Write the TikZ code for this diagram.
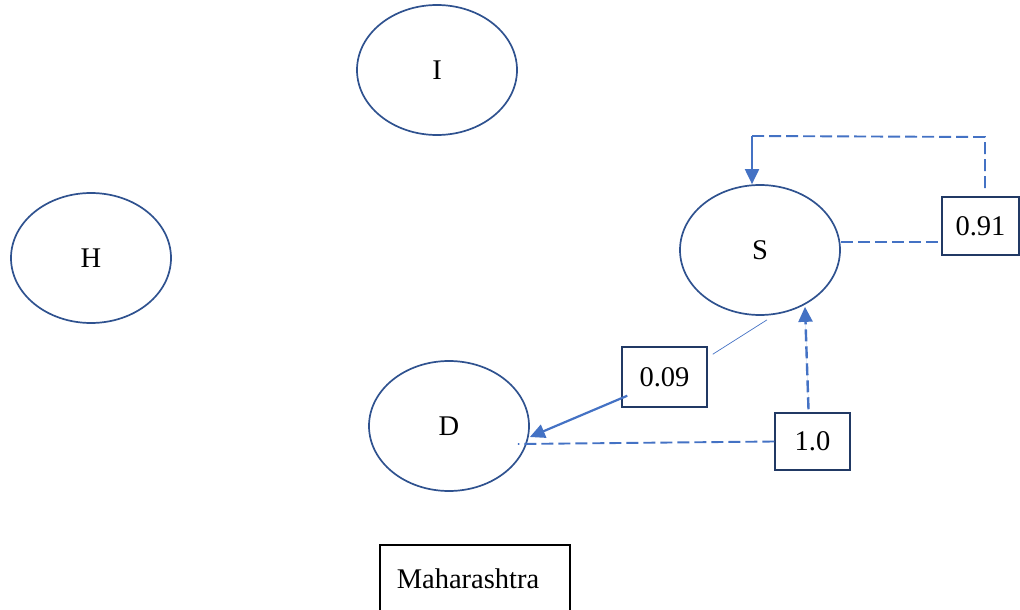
\documentclass[tikz,border=0pt]{standalone}
\usepackage{fontspec}
\setmainfont{Liberation Serif}
\usetikzlibrary{shapes.geometric,arrows.meta}
\definecolor{ellblue}{HTML}{2F528F}
\definecolor{lineblue}{HTML}{4472C4}
\begin{document}
\begin{tikzpicture}[x=1pt,y=-1pt,
  every node/.style={font=\fontsize{28.5}{33}\selectfont},
  oval/.style={ellipse,draw=ellblue,line width=1.7pt,minimum width=160pt,minimum height=130pt},
  valbox/.style={rectangle,draw=ellblue!70!black,line width=1.5pt,inner sep=0pt},
  dashlink/.style={draw=lineblue,line width=1.9pt,dash pattern=on 12pt off 5pt},
  tip/.style={-{Triangle[width=14pt,length=15pt]}}]
\useasboundingbox (0,0) rectangle (1020,610);
\node[oval] (I) at (437,70) {I};
\node[oval] (H) at (91,258) {H};
\node[oval] (S) at (760,250) {S};
\node[oval] (D) at (449,426) {D};
\node[valbox,minimum width=77pt,minimum height=58pt] (b091) at (980.5,226) {0.91};
\node[valbox,minimum width=85pt,minimum height=60pt] (b009) at (664.5,377) {0.09};
\node[valbox,minimum width=75pt,minimum height=57pt] (b10) at (812.5,441.5) {1.0};
\node[rectangle,draw=black,line width=1.5pt,minimum width=190pt,minimum height=68pt,text depth=0pt] (mh) at (475,579) {\hspace*{-14pt}Maharashtra};
% loop from 0.91 back to S
\coordinate (lstart) at (985,188);
\coordinate (ltop) at (752,136);
\draw[dashlink] (lstart) -- (985,137) -- (ltop);
\draw[draw=lineblue,line width=2pt,fill=lineblue,tip] (ltop) -- (ltop |- S.north);
% S to 0.91
\draw[dashlink] ([yshift=8pt]S.east) -- ([yshift=8pt]S.east -| b091.west);
% thin line S to 0.09
\draw[draw=lineblue,line width=0.7pt] ([shift={(7pt,-4pt)}]S.south) -- ([shift={(5pt,-8pt)}]b009.north east);
% 0.09 to D
\draw[draw=lineblue,line width=2.2pt,fill=lineblue,tip] ([shift={(6pt,12pt)}]b009.south west) -- ([yshift=-11pt]D.east);
% 1.0 to D
\draw[dashlink] (b10.west) -- ([shift={(-12pt,-18pt)}]D.east);
% 1.0 to S
\draw[dashlink,line width=2.4pt,tip,fill=lineblue] ([shift={(-4pt,3pt)}]b10.north) -- ([shift={(45pt,9pt)}]S.south);
\end{tikzpicture}
\end{document}
